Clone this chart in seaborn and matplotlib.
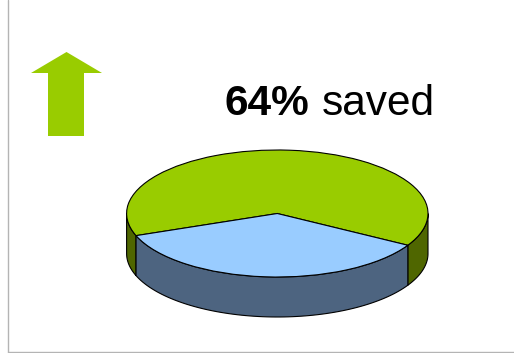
import numpy as np
import matplotlib
matplotlib.use("Agg")
import matplotlib.pyplot as plt
from matplotlib.patches import Polygon
from matplotlib.transforms import Affine2D
import seaborn as sns

sns.set_theme(style="white")
plt.rcParams["font.family"] = ["Liberation Sans", "DejaVu Sans"]

# Share of the total in each slice
slice_names = ["saved", "remaining"]
slice_values = [64, 36]
top_colors = ["#99CC00", "#99CCFF"]
side_colors = ["#4F6600", "#4D6480"]
start_angle = -30

WIDTH, HEIGHT = 514, 353
CX, CY, RX, RY, DEPTH = 277.3, 213.5, 150.7, 63.5, 40

fig = plt.figure(figsize=(WIDTH / 100, HEIGHT / 100), dpi=100, facecolor="white")
ax = fig.add_axes([0, 0, 1, 1])

# Top face: an ordinary pie, squashed into an ellipse by the axes limits
ax.pie(slice_values, colors=top_colors, startangle=start_angle, radius=1,
       wedgeprops=dict(edgecolor="black", linewidth=0.8, zorder=3))
ax.set_aspect("auto")
ax.set_xlim(-CX / RX, (WIDTH - CX) / RX)
ax.set_ylim(-(HEIGHT - CY) / RY, CY / RY)
ax.axis("off")

# Rim of the disc: the part of each slice that faces the viewer
depth = DEPTH / RY
edges = start_angle + np.cumsum([0] + slice_values) * 3.6
for lo, hi, color in zip(edges[:-1], edges[1:], side_colors):
    for shift in (0, 360):
        a, b = max(lo + shift, 180), min(hi + shift, 360)
        if a >= b:
            continue
        t = np.radians(np.linspace(a, b, 80))
        x, y = np.cos(t), np.sin(t)
        pts = np.r_[np.c_[x, y], np.c_[x, y - depth][::-1]]
        ax.add_patch(Polygon(pts, closed=True, facecolor=color, edgecolor="black",
                             linewidth=0.8, zorder=2))

# Everything below is placed in pixels measured from the top-left corner
px = Affine2D().scale(1, -1).translate(0, HEIGHT) + Affine2D().scale(fig.dpi / 100)
ax.add_patch(Polygon([(66.5, 52), (102, 73), (84, 73), (84, 136), (48, 136), (48, 73), (31, 73)],
                     closed=True, facecolor="#99CC00", edgecolor="none", transform=px, zorder=4))

frame = dict(color="#B4B4B4", linewidth=1.0, transform=px, clip_on=False)
ax.plot([7.5, 7.5], [0, 351.5], **frame)
ax.plot([7.5, WIDTH], [351.5, 351.5], **frame)

fig.text(224 / WIDTH, 1 - 115 / HEIGHT, f"{slice_values[0]}%", fontsize=30.5,
         fontweight="bold", color="black", ha="left", va="baseline")
fig.text(322 / WIDTH, 1 - 115 / HEIGHT, slice_names[0], fontsize=30.5,
         color="black", ha="left", va="baseline")

fig.savefig("out.png", dpi=100)
